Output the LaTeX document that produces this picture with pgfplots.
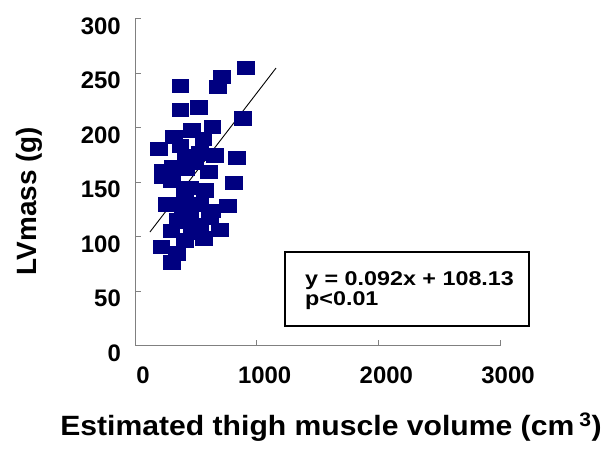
\documentclass[border=0pt]{standalone}
\usepackage{fontspec}
\setmainfont{Liberation Sans}
\usepackage{pgfplots}
\pgfplotsset{compat=1.18}
\definecolor{ptnavy}{RGB}{0,0,128}
\definecolor{axgray}{RGB}{128,128,128}
\begin{document}
\begin{tikzpicture}[x=1bp,y=1bp]
\useasboundingbox (0,0) rectangle (603,449);
\begin{axis}[
  at={(135bp,103bp)}, anchor=south west,
  scale only axis, width=365bp, height=327bp,
  xmin=0, xmax=3000, ymin=0, ymax=300,
  axis lines=left,
  axis line style={-, draw=axgray, line width=1bp},
  xtick={0,1000,2000,3000}, ytick={0,50,...,300},
  tick align=inside, major tick length=6bp,
  tick style={draw=axgray, line width=1bp},
  /pgf/number format/assume math mode=true,
  /pgf/number format/1000 sep={},
  tick label style={font=\fontsize{24}{24}\selectfont\bfseries, inner sep=0pt},
  xticklabel style={anchor=north, yshift=-21bp, xshift=8bp},
  yticklabel style={anchor=east, xshift=-14bp, yshift=-7bp},
  xlabel={Estimated thigh muscle volume (cm\,\textsuperscript{3})},
  ylabel={LVmass (g)},
  label style={font=\fontsize{28}{28}\selectfont\bfseries},
  xlabel style={at={(axis description cs:0.537,-0.275)}, anchor=base, xscale=1.08},
  ylabel style={at={(axis description cs:-0.290,0.443)}, anchor=center},
  clip=false,
]
\addplot[only marks, mark=square*, mark size=6.65bp,
  mark options={xscale=1.25, fill=ptnavy, draw=ptnavy}] table {
x y
912 255
715 247
682 238
370 239
370 217
526 219
887 209
633 201
468 198
320 192
559 190
197 181
838 173
419 174
534 177
657 175
312 164
608 160
247 160
304 152
419 163
452 145
813 150
263 130
394 128
534 130
633 124
764 129
616 118
698 107
427 114
296 106
468 104
567 99
214 91
345 85
304 77
222 155
230 161
370 184
493 168
411 139
575 143
452 120
353 116
534 111
411 97
};
\addplot[black, line width=0.9bp] coordinates {(123,104.6) (1159,255)};
\draw[black, line width=1.3bp] (axis cs:1233,18.3) rectangle (axis cs:3238,86.2);
\node[anchor=base west, inner sep=0pt, xscale=1.17,
  font=\fontsize{20}{20}\selectfont\bfseries] at (axis cs:1397,55.5) {y = 0.092x + 108.13};
\node[anchor=base west, inner sep=0pt, xscale=1.17,
  font=\fontsize{20}{20}\selectfont\bfseries] at (axis cs:1397,36.7) {p<0.01};
\end{axis}
\end{tikzpicture}
\end{document}
